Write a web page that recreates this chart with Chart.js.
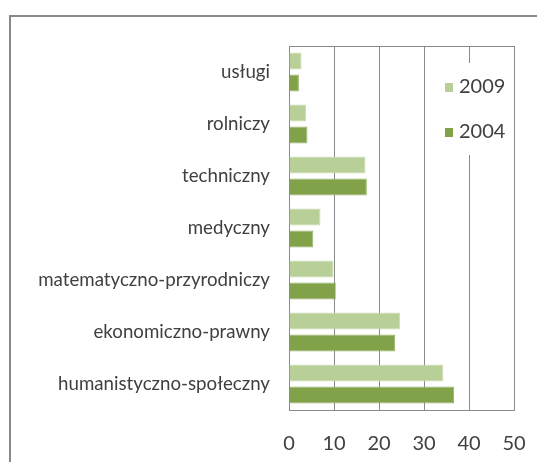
<!DOCTYPE html>
<html>
<head>
<meta charset="utf-8">
<script src="https://cdn.jsdelivr.net/npm/chart.js@4"></script>
<style>
  body { margin: 0; background: #fff; overflow: hidden; }
  #wrap { position: relative; width: 537px; height: 462px; }
  #frame { position: absolute; left: 9px; top: 15px; width: 600px; height: 500px;
           border: 2px solid #8a8a8a; box-sizing: border-box; }
  canvas { position: absolute; left: 0; top: 0; }
</style>
</head>
<body>
<div id="wrap">
  <div id="frame"></div>
  <canvas id="chart" width="537" height="462"></canvas>
</div>
<script>
const categories = ['usługi', 'rolniczy', 'techniczny', 'medyczny',
  'matematyczno-przyrodniczy', 'ekonomiczno-prawny', 'humanistyczno-społeczny'];
const seriesNames = ['2009', '2004'];
const values2009 = [2.8, 3.8, 17.0, 7.0, 9.9, 24.7, 34.3];
const values2004 = [2.2, 4.1, 17.3, 5.4, 10.4, 23.6, 36.7];
const xMin = 0, xMax = 50, xStep = 10;

const fontFamily = 'Lato, "Liberation Sans", sans-serif';
const textColor = '#404040';
const gridColor = '#8a8a8a';
const colors = ['#b8d097', '#82a24a'];
const edgeColors = ['#c9dcae', '#97b567'];

// frame on top of plot + legend box drawn inside the plot area
const extras = {
    id: 'extras',
    afterDatasetsDraw(chart) {
        const ctx = chart.ctx;
        const a = chart.chartArea;
        ctx.save();
        ctx.strokeStyle = gridColor;
        ctx.lineWidth = 1;
        ctx.beginPath();
        ctx.moveTo(a.left, a.top + 0.5);
        ctx.lineTo(a.right, a.top + 0.5);
        ctx.stroke();

        // legend
        ctx.fillStyle = '#fff';
        ctx.fillRect(440, 63, 68, 92);
        ctx.font = '20px ' + fontFamily;
        ctx.textBaseline = 'middle';
        const ys = [87, 132];
        chart.data.datasets.forEach((ds, i) => {
            ctx.fillStyle = ds.backgroundColor;
            ctx.fillRect(445, ys[i] - 4, 8, 9);
            ctx.fillStyle = textColor;
            ctx.fillText(ds.label, 459, ys[i]);
        });
        ctx.restore();
    }
};

new Chart(document.getElementById('chart'), {
    type: 'bar',
    data: {
        labels: categories,
        datasets: [{
            label: seriesNames[0],
            data: values2009,
            backgroundColor: colors[0],
            borderColor: edgeColors[0],
            borderWidth: 1
        }, {
            label: seriesNames[1],
            data: values2004,
            backgroundColor: colors[1],
            borderColor: edgeColors[1],
            borderWidth: 1
        }]
    },
    options: {
        indexAxis: 'y',
        responsive: false,
        animation: false,
        categoryPercentage: 0.84,
        barPercentage: 0.78,
        layout: { padding: { left: 0, right: 23, top: 46, bottom: 0 } },
        plugins: {
            legend: { display: false },
            tooltip: { enabled: false }
        },
        scales: {
            x: {
                min: xMin,
                max: xMax,
                ticks: { stepSize: xStep, color: textColor, padding: 22,
                         font: { family: fontFamily, size: 20 } },
                grid: { color: gridColor, drawTicks: false },
                border: { color: gridColor },
                afterFit(scale) {
                    scale.height = 52;
                    scale.paddingLeft = 0;
                    scale.paddingRight = 0;
                }
            },
            y: {
                ticks: { color: textColor, padding: 19,
                         font: { family: fontFamily, size: 18.7 } },
                grid: { display: false, drawTicks: false },
                border: { color: gridColor },
                afterFit(scale) { scale.width = 289; }
            }
        }
    },
    plugins: [extras]
});
</script>
</body>
</html>
